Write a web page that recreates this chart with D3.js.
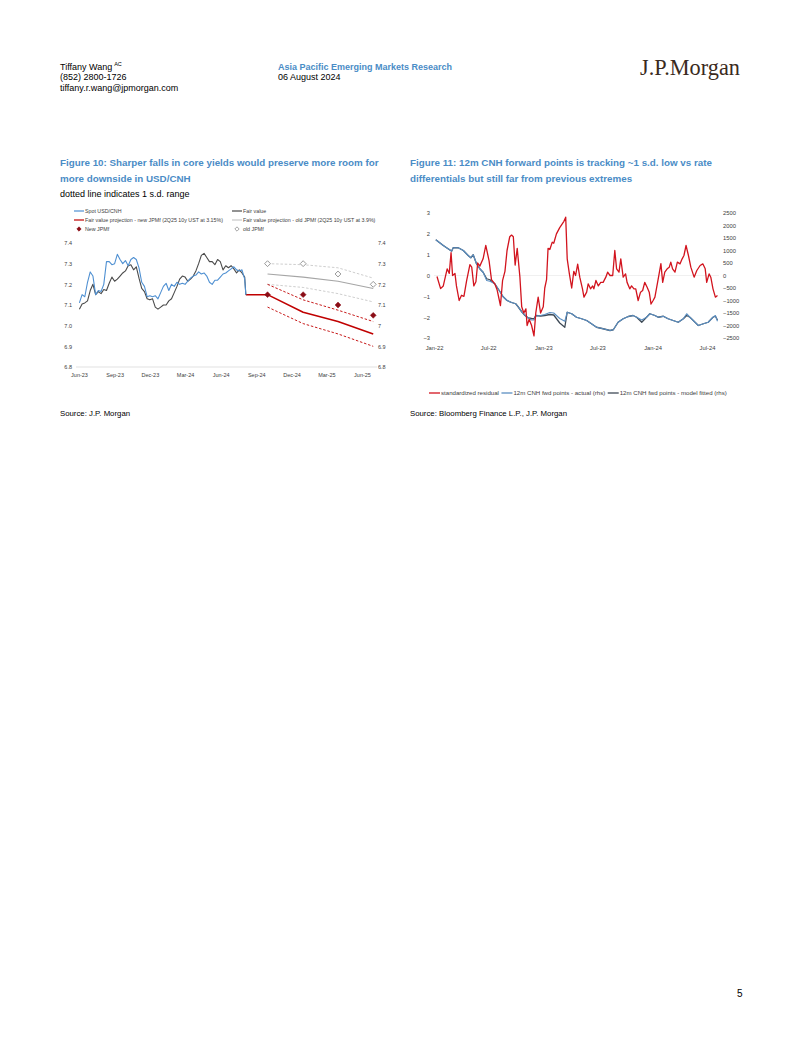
<!DOCTYPE html>
<html><head><meta charset="utf-8">
<script src="https://cdn.jsdelivr.net/npm/d3@7/dist/d3.min.js"></script>
<style>
html,body{margin:0;padding:0;background:#fff;}
svg text{font-family:"Liberation Sans",Arial,Helvetica,sans-serif;}
</style></head>
<body>
<svg id="page" width="802" height="1037"></svg>
<script>
// ---------------- Figure 10 data ----------------
const fig10Dates = ["2023-06-02","2023-06-09","2023-06-16","2023-06-23","2023-06-30","2023-07-07","2023-07-14","2023-07-21","2023-07-28","2023-08-04","2023-08-11","2023-08-18","2023-08-25","2023-09-01","2023-09-08","2023-09-15","2023-09-22","2023-09-29","2023-10-06","2023-10-13","2023-10-20","2023-10-27","2023-11-03","2023-11-10","2023-11-17","2023-11-24","2023-12-01","2023-12-08","2023-12-15","2023-12-22","2023-12-29","2024-01-05","2024-01-12","2024-01-19","2024-01-26","2024-02-02","2024-02-09","2024-02-16","2024-02-23","2024-03-01","2024-03-08","2024-03-15","2024-03-22","2024-03-29","2024-04-05","2024-04-12","2024-04-19","2024-04-26","2024-05-03","2024-05-10","2024-05-17","2024-05-24","2024-05-31","2024-06-07","2024-06-14","2024-06-21","2024-06-28","2024-07-05","2024-07-12","2024-07-19","2024-07-26","2024-08-02","2024-08-05"];
const spotUSDCNH = [7.11,7.15,7.14,7.21,7.26, 7.24,7.15,7.17,7.165, 7.20,7.31,7.31,7.295, 7.30,7.345,7.32,7.30,7.315, 7.29,7.32,7.33,7.32, 7.28,7.21,7.19,7.14, 7.145,7.14,7.145,7.13,7.16, 7.19,7.205,7.17,7.20, 7.19,7.21,7.20,7.205, 7.20,7.215,7.23,7.24,7.245, 7.26,7.25,7.255,7.24, 7.21,7.20,7.22,7.22,7.235, 7.25,7.255,7.265,7.275, 7.285,7.27,7.265,7.27, 7.225,7.15];
const fairValue = [7.08,7.105,7.11,7.12,7.17, 7.20,7.15,7.165,7.155, 7.175,7.17,7.205,7.235, 7.215,7.225,7.24,7.255,7.265, 7.29,7.295,7.27,7.285, 7.23,7.18,7.165,7.13, 7.125,7.13,7.09,7.08,7.09, 7.10,7.10,7.12,7.13, 7.16,7.19,7.225,7.24, 7.235,7.215,7.225,7.24,7.265, 7.30,7.34,7.35,7.33, 7.31,7.31,7.295,7.32,7.31, 7.27,7.29,7.28,7.29, 7.275,7.255,7.27,7.255, 7.235,7.15];
const projDates = ["2024-08-05","2024-09-30","2024-12-31","2025-03-31","2025-06-30"];
const newProj = [7.15,7.15,7.065,7.02,6.96];
const qDates = ["2024-09-30","2024-12-31","2025-03-31","2025-06-30"];
const newUpper = [7.20,7.125,7.075,7.02];
const newLower = [7.09,7.01,6.96,6.90];
const oldProj = [7.25,7.235,7.215,7.18];
const oldUpper = [7.30,7.295,7.28,7.23];
const oldLower = [7.20,7.185,7.155,7.115];
const newJPMf = [7.15,7.15,7.10,7.05];
const oldJPMf = [7.30,7.30,7.25,7.20];
const fig10YTicks = [6.8,6.9,7.0,7.1,7.2,7.3,7.4];
const fig10XTicks = ["2023-06-01","2023-09-01","2023-12-01","2024-03-01","2024-06-01","2024-09-01","2024-12-01","2025-03-01","2025-06-01"];

// ---------------- Figure 11 data ----------------
const residual = [
["2022-01-11",-0.05],["2022-01-23",-0.63],
["2022-02-01",-0.5],["2022-02-14",0.32],["2022-02-21",0.1],["2022-02-27",1.1],
["2022-03-04",0],["2022-03-12",0.1],["2022-03-17",-0.5],["2022-03-26",-1.2],
["2022-04-03",-0.95],["2022-04-11",-1.0],["2022-04-20",-0.25],
["2022-05-01",0.52],["2022-05-07",0.4],["2022-05-14",-0.5],["2022-05-21",-0.3],["2022-05-27",0.6],
["2022-06-03",0.45],["2022-06-14",0.8],["2022-06-23",1.45],
["2022-07-04",0.7],["2022-07-12",-0.2],["2022-07-23",-0.4],["2022-07-31",-0.7],
["2022-08-11",-1.44],["2022-08-18",-0.25],["2022-08-26",0.2],
["2022-09-02",1.2],["2022-09-11",1.86],["2022-09-17",1.94],["2022-09-23",1.86],["2022-09-29",0.5],
["2022-10-06",1.3],["2022-10-15",-0.08],["2022-10-21",-1.5],["2022-10-28",-1.8],
["2022-11-04",-1.6],["2022-11-08",-2.4],["2022-11-15",-2.1],["2022-11-23",-2.4],
["2022-12-01",-2.9],["2022-12-07",-1.8],["2022-12-15",-1.04],["2022-12-23",-1.8],
["2023-01-01",-1.5],["2023-01-06",-0.6],["2023-01-12",-0.2],["2023-01-17",1.3],["2023-01-23",1.25],["2023-01-31",1.6],
["2023-02-05",1.55],["2023-02-14",2.0],["2023-02-25",2.3],
["2023-03-11",2.6],["2023-03-17",2.8],["2023-03-22",0.8],["2023-03-29",0.1],
["2023-04-06",-0.6],["2023-04-13",0.2],["2023-04-19",0],["2023-04-26",0.55],
["2023-05-03",-0.08],["2023-05-12",-0.64],["2023-05-17",-1.04],["2023-05-26",-0.8],["2023-05-31",-0.4],
["2023-06-08",-0.64],["2023-06-15",-0.5],["2023-06-19",-0.64],["2023-06-26",-0.24],
["2023-07-04",-0.5],["2023-07-12",-0.33],["2023-07-20",-0.33],["2023-07-29",-0.08],
["2023-08-04",0.16],["2023-08-12",0],["2023-08-21",0],["2023-08-28",1.2],
["2023-09-03",0.32],["2023-09-11",0.16],["2023-09-17",0.8],["2023-09-25",-0.08],
["2023-10-03",0.08],["2023-10-08",-0.33],["2023-10-17",-0.64],["2023-10-23",-0.5],["2023-10-31",-0.64],
["2023-11-06",-0.64],["2023-11-14",-1.2],["2023-11-22",-0.8],["2023-11-29",-0.72],
["2023-12-06",-0.33],["2023-12-14",-0.56],["2023-12-21",-0.8],["2023-12-27",-1.37],
["2024-01-03",-1.2],["2024-01-09",-1.04],["2024-01-17",-0.4],["2024-01-23",0.08],["2024-01-29",0.57],
["2024-02-04",-0.33],["2024-02-11",0.16],["2024-02-19",0.32],["2024-02-26",0.4],
["2024-03-02",0.64],["2024-03-08",0.32],["2024-03-16",0.16],["2024-03-24",0.64],
["2024-04-02",0.56],["2024-04-09",0.8],["2024-04-15",0.96],["2024-04-22",1.44],["2024-04-30",0.96],
["2024-05-08",0.4],["2024-05-19",-0.08],["2024-05-28",0.24],
["2024-06-08",0.48],["2024-06-17",0.56],["2024-06-25",0.32],["2024-06-30",-0.33],
["2024-07-08",0.08],["2024-07-14",-0.1],["2024-07-21",-0.64],["2024-07-29",-1.04],
["2024-08-05",-0.96]];
// [date, actual (rhs), model fitted (rhs)]
const fwdPoints = [
["2022-01-07",1430,1430],["2022-02-01",1200,1200],["2022-02-17",1070,1070],["2022-03-01",975,975],
["2022-03-06",1110,1110],["2022-03-23",1110,1110],["2022-04-09",1000,1000],["2022-04-25",800,800],
["2022-05-04",710,710],["2022-05-12",830,830],["2022-05-23",470,470],["2022-06-03",270,270],
["2022-06-14",130,130],["2022-06-26",-200,-130],["2022-07-07",-230,-170],["2022-07-23",-330,-330],
["2022-08-07",-600,-600],["2022-08-20",-850,-850],["2022-09-02",-1000,-1000],["2022-09-17",-1080,-1080],
["2022-10-01",-1130,-1130],["2022-10-09",-1250,-1250],["2022-10-21",-1450,-1450],["2022-11-01",-1580,-1600],
["2022-11-12",-1700,-1700],["2022-11-23",-1780,-1720],["2022-12-01",-1780,-1730],["2022-12-07",-1620,-1600],
["2022-12-23",-1600,-1620],["2023-01-06",-1560,-1600],["2023-01-23",-1480,-1560],["2023-02-05",-1500,-1580],
["2023-02-25",-1720,-1900],["2023-03-14",-1830,-2070],["2023-03-22",-1470,-1470],["2023-04-06",-1530,-1530],
["2023-04-22",-1670,-1670],["2023-05-09",-1730,-1730],["2023-05-26",-1800,-1800],["2023-06-11",-1930,-1930],
["2023-06-28",-2070,-2070],["2023-07-20",-2130,-2130],["2023-08-12",-2200,-2200],["2023-08-23",-2170,-2170],
["2023-09-08",-1870,-1870],["2023-09-25",-1730,-1730],["2023-10-12",-1640,-1640],["2023-10-28",-1600,-1600],
["2023-11-09",-1670,-1670],["2023-11-26",-1780,-1870],["2023-12-12",-1670,-1670],["2023-12-23",-1530,-1530],
["2024-01-09",-1600,-1600],["2024-01-20",-1670,-1670],["2024-02-06",-1630,-1630],["2024-02-22",-1730,-1730],
["2024-03-10",-1800,-1800],["2024-03-27",-1870,-1870],["2024-04-13",-1730,-1730],["2024-04-24",-1530,-1600],
["2024-05-05",-1670,-1670],["2024-05-22",-1870,-1870],["2024-06-02",-2000,-2000],["2024-06-19",-1930,-1930],
["2024-07-05",-1870,-1870],["2024-07-21",-1670,-1670],["2024-07-29",-1600,-1630],["2024-08-05",-1830,-1780]];
const fig11LeftTicks = [-3,-2,-1,0,1,2,3];
const fig11RightTicks = [-2500,-2000,-1500,-1000,-500,0,500,1000,1500,2000,2500];
const fig11XTicks = ["2022-01-01","2022-07-01","2023-01-01","2023-07-01","2024-01-01","2024-07-01"];

// ---------------- drawing ----------------
const parse = d3.timeParse("%Y-%m-%d");
const fmtMon = d3.timeFormat("%b-%y");
const svg = d3.select("#page");
svg.append("rect").attr("width",802).attr("height",1037).attr("fill","#fff");
const BLUE_T = "#4a8cc6";

function txt(x,y,s,opt={}){
  const t = svg.append("text").attr("x",x).attr("y",y).text(s)
    .attr("font-size",opt.size||9).attr("fill",opt.fill||"#000");
  if(opt.weight) t.attr("font-weight",opt.weight);
  if(opt.anchor) t.attr("text-anchor",opt.anchor);
  if(opt.family) t.style("font-family",opt.family);
  return t;
}
// Header
const tw = txt(60,69.5,"Tiffany Wang");
tw.append("tspan").attr("dx",2).attr("dy",-3.5).attr("font-size",5.5).text("AC");
txt(60,80,"(852) 2800-1726");
txt(60,90.5,"tiffany.r.wang@jpmorgan.com");
txt(278,69.5,"Asia Pacific Emerging Markets Research",{fill:BLUE_T,weight:"bold"});
txt(278,80,"06 August 2024");
txt(640,75,"J.P.Morgan",{size:22.3,fill:"#3a2a20",family:"'Liberation Serif','Times New Roman',serif"});

// Titles
txt(60,165.5,"Figure 10: Sharper falls in core yields would preserve more room for",{size:9.8,weight:"bold",fill:BLUE_T});
txt(60,181.5,"more downside in USD/CNH",{size:9.8,weight:"bold",fill:BLUE_T});
txt(60,196.5,"dotted line indicates 1 s.d. range",{size:9});
txt(410,165.5,"Figure 11: 12m CNH forward points is tracking ~1 s.d. low vs rate",{size:9.8,weight:"bold",fill:BLUE_T});
txt(410,181.5,"differentials but still far from previous extremes",{size:9.8,weight:"bold",fill:BLUE_T});

// Sources & page number
txt(60,416,"Source: J.P. Morgan",{size:7.8});
txt(410,416,"Source: Bloomberg Finance L.P., J.P. Morgan",{size:7.8});
txt(737,997,"5",{size:10});

// ---------- Figure 10 ----------
const C_SPOT="#4f90d2", C_FAIR="#4a4a4a", C_RED="#c00000", C_GREY="#a6a6a6", C_GREYD="#c8c8c8", C_DIAM="#8b0d16";
const x10 = d3.scaleTime().domain([parse("2023-06-01"),parse("2025-06-01")]).range([79,362]);
const y10 = d3.scaleLinear().domain([6.8,7.4]).range([367,243]);
const g10 = svg.append("g");
g10.append("line").attr("x1",76).attr("x2",377).attr("y1",y10(6.8)).attr("y2",y10(6.8)).attr("stroke","#d9d9d9").attr("stroke-width",0.8);

function styleAxis(g,size){
  g.select(".domain").remove();
  g.selectAll("text").attr("font-size",size).attr("fill","#404040")
   .style("font-family","'Liberation Sans',Arial,sans-serif");
}
g10.append("g").attr("transform","translate(72,0)")
  .call(d3.axisLeft(y10).tickValues(fig10YTicks).tickSize(0).tickPadding(0).tickFormat(d3.format(".1f")))
  .call(g=>styleAxis(g,5.5));
g10.append("g").attr("transform","translate(378,0)")
  .call(d3.axisRight(y10).tickValues(fig10YTicks).tickSize(0).tickPadding(0).tickFormat(d=>d3.format("~g")(+d.toFixed(1))))
  .call(g=>styleAxis(g,5.5));
g10.append("g").attr("transform",`translate(0,${y10(6.8)})`)
  .call(d3.axisBottom(x10).tickValues(fig10XTicks.map(parse)).tickSize(0).tickPadding(6).tickFormat(fmtMon))
  .call(g=>styleAxis(g,5.5));

const line10 = d3.line().x(d=>x10(d[0])).y(d=>y10(d[1]));
const zip = (ds,vs)=>ds.map((d,i)=>[parse(d),vs[i]]);
function path(g,data,line,color,w,dash){
  const p = g.append("path").datum(data).attr("d",line).attr("fill","none")
   .attr("stroke",color).attr("stroke-width",w).attr("stroke-linejoin","round");
  if(dash) p.attr("stroke-dasharray",dash);
  return p;
}
path(g10,zip(qDates,oldUpper),line10,C_GREYD,0.9,"2.5,1.8");
path(g10,zip(qDates,oldLower),line10,C_GREYD,0.9,"2.5,1.8");
path(g10,zip(qDates,oldProj),line10,C_GREY,1.2);
path(g10,zip(qDates,newUpper),line10,C_RED,0.9,"2.5,1.8");
path(g10,zip(qDates,newLower),line10,C_RED,0.9,"2.5,1.8");
path(g10,zip(projDates,newProj),line10,C_RED,1.5);
path(g10,zip(fig10Dates,fairValue),line10,C_FAIR,1.1);
path(g10,zip(fig10Dates,spotUSDCNH),line10,C_SPOT,1.1);

const diamond = d3.symbol().type(d3.symbolDiamond2).size(22);
g10.selectAll(".oldj").data(zip(qDates,oldJPMf)).join("path")
  .attr("transform",d=>`translate(${x10(d[0])},${y10(d[1])})`).attr("d",diamond)
  .attr("fill","#fff").attr("stroke","#7f7f7f").attr("stroke-width",0.8);
g10.selectAll(".newj").data(zip(qDates,newJPMf)).join("path")
  .attr("transform",d=>`translate(${x10(d[0])},${y10(d[1])})`).attr("d",diamond)
  .attr("fill",C_DIAM).attr("stroke",C_DIAM).attr("stroke-width",0.5);

// legend Fig 10
const leg10 = [
  {x:74,y:211,type:"line",c:C_SPOT,t:"Spot USD/CNH"},
  {x:232,y:211,type:"line",c:C_FAIR,t:"Fair value"},
  {x:74,y:220,type:"line",c:C_RED,t:"Fair value projection - new JPMf (2Q25 10y UST at 3.15%)"},
  {x:232,y:220,type:"line",c:C_GREYD,t:"Fair value projection - old JPMf (2Q25 10y UST at 3.9%)"},
  {x:74,y:229,type:"newd",t:"New JPMf"},
  {x:232,y:229,type:"oldd",t:"old JPMf"}
];
leg10.forEach(l=>{
  if(l.type==="line"){
    svg.append("line").attr("x1",l.x).attr("x2",l.x+10).attr("y1",l.y).attr("y2",l.y).attr("stroke",l.c).attr("stroke-width",1.2);
  } else {
    svg.append("path").attr("transform",`translate(${l.x+5},${l.y})`).attr("d",d3.symbol().type(d3.symbolDiamond2).size(12))
      .attr("fill",l.type==="newd"?C_DIAM:"#fff").attr("stroke",l.type==="newd"?C_DIAM:"#7f7f7f").attr("stroke-width",0.7);
  }
  txt(l.x+11,l.y+2,l.t,{size:5.3,fill:"#404040"});
});

// ---------- Figure 11 ----------
const C11_RED="#d2141e", C11_BLUE="#5b8fc2", C11_DARK="#3e4a56";
const x11 = d3.scaleTime().domain([parse("2022-01-01"),parse("2024-07-01")]).range([434,707]);
const yL = d3.scaleLinear().domain([-3,3]).range([338,213]);
const yR = d3.scaleLinear().domain([-2500,2500]).range([338,213]);
const g11 = svg.append("g");
g11.append("line").attr("x1",434).attr("x2",719).attr("y1",yL(0)).attr("y2",yL(0)).attr("stroke","#ececec").attr("stroke-width",0.8);
g11.append("g").attr("transform","translate(430,0)")
  .call(d3.axisLeft(yL).tickValues(fig11LeftTicks).tickSize(0).tickPadding(0).tickFormat(d3.format("d")))
  .call(g=>styleAxis(g,5.8));
g11.append("g").attr("transform","translate(723,0)")
  .call(d3.axisRight(yR).tickValues(fig11RightTicks).tickSize(0).tickPadding(0).tickFormat(d3.format("d")))
  .call(g=>styleAxis(g,5.8));
g11.append("g").attr("transform",`translate(0,${yL(-3)})`)
  .call(d3.axisBottom(x11).tickValues(fig11XTicks.map(parse)).tickSize(0).tickPadding(7.5).tickFormat(fmtMon))
  .call(g=>styleAxis(g,5.8));

const lineRes = d3.line().x(d=>x11(parse(d[0]))).y(d=>yL(d[1]));
const lineAct = d3.line().x(d=>x11(parse(d[0]))).y(d=>yR(d[1]));
const lineFit = d3.line().x(d=>x11(parse(d[0]))).y(d=>yR(d[2]));
path(g11,fwdPoints,lineFit,C11_DARK,1.3);
path(g11,fwdPoints,lineAct,C11_BLUE,1.1);
path(g11,residual,lineRes,C11_RED,1.3);

// legend Fig 11
const leg11 = [{c:C11_RED,t:"standardized residual"},{c:C11_BLUE,t:"12m CNH fwd points - actual (rhs)"},{c:C11_DARK,t:"12m CNH fwd points - model fitted (rhs)"}];
let lx = 429;
leg11.forEach(l=>{
  svg.append("line").attr("x1",lx).attr("x2",lx+11).attr("y1",393).attr("y2",393).attr("stroke",l.c).attr("stroke-width",1.3);
  const t = txt(lx+12,395,l.t,{size:6.1,fill:"#404040"});
  lx += 12 + t.node().getComputedTextLength() + 2.5;
});
</script>
</body></html>
